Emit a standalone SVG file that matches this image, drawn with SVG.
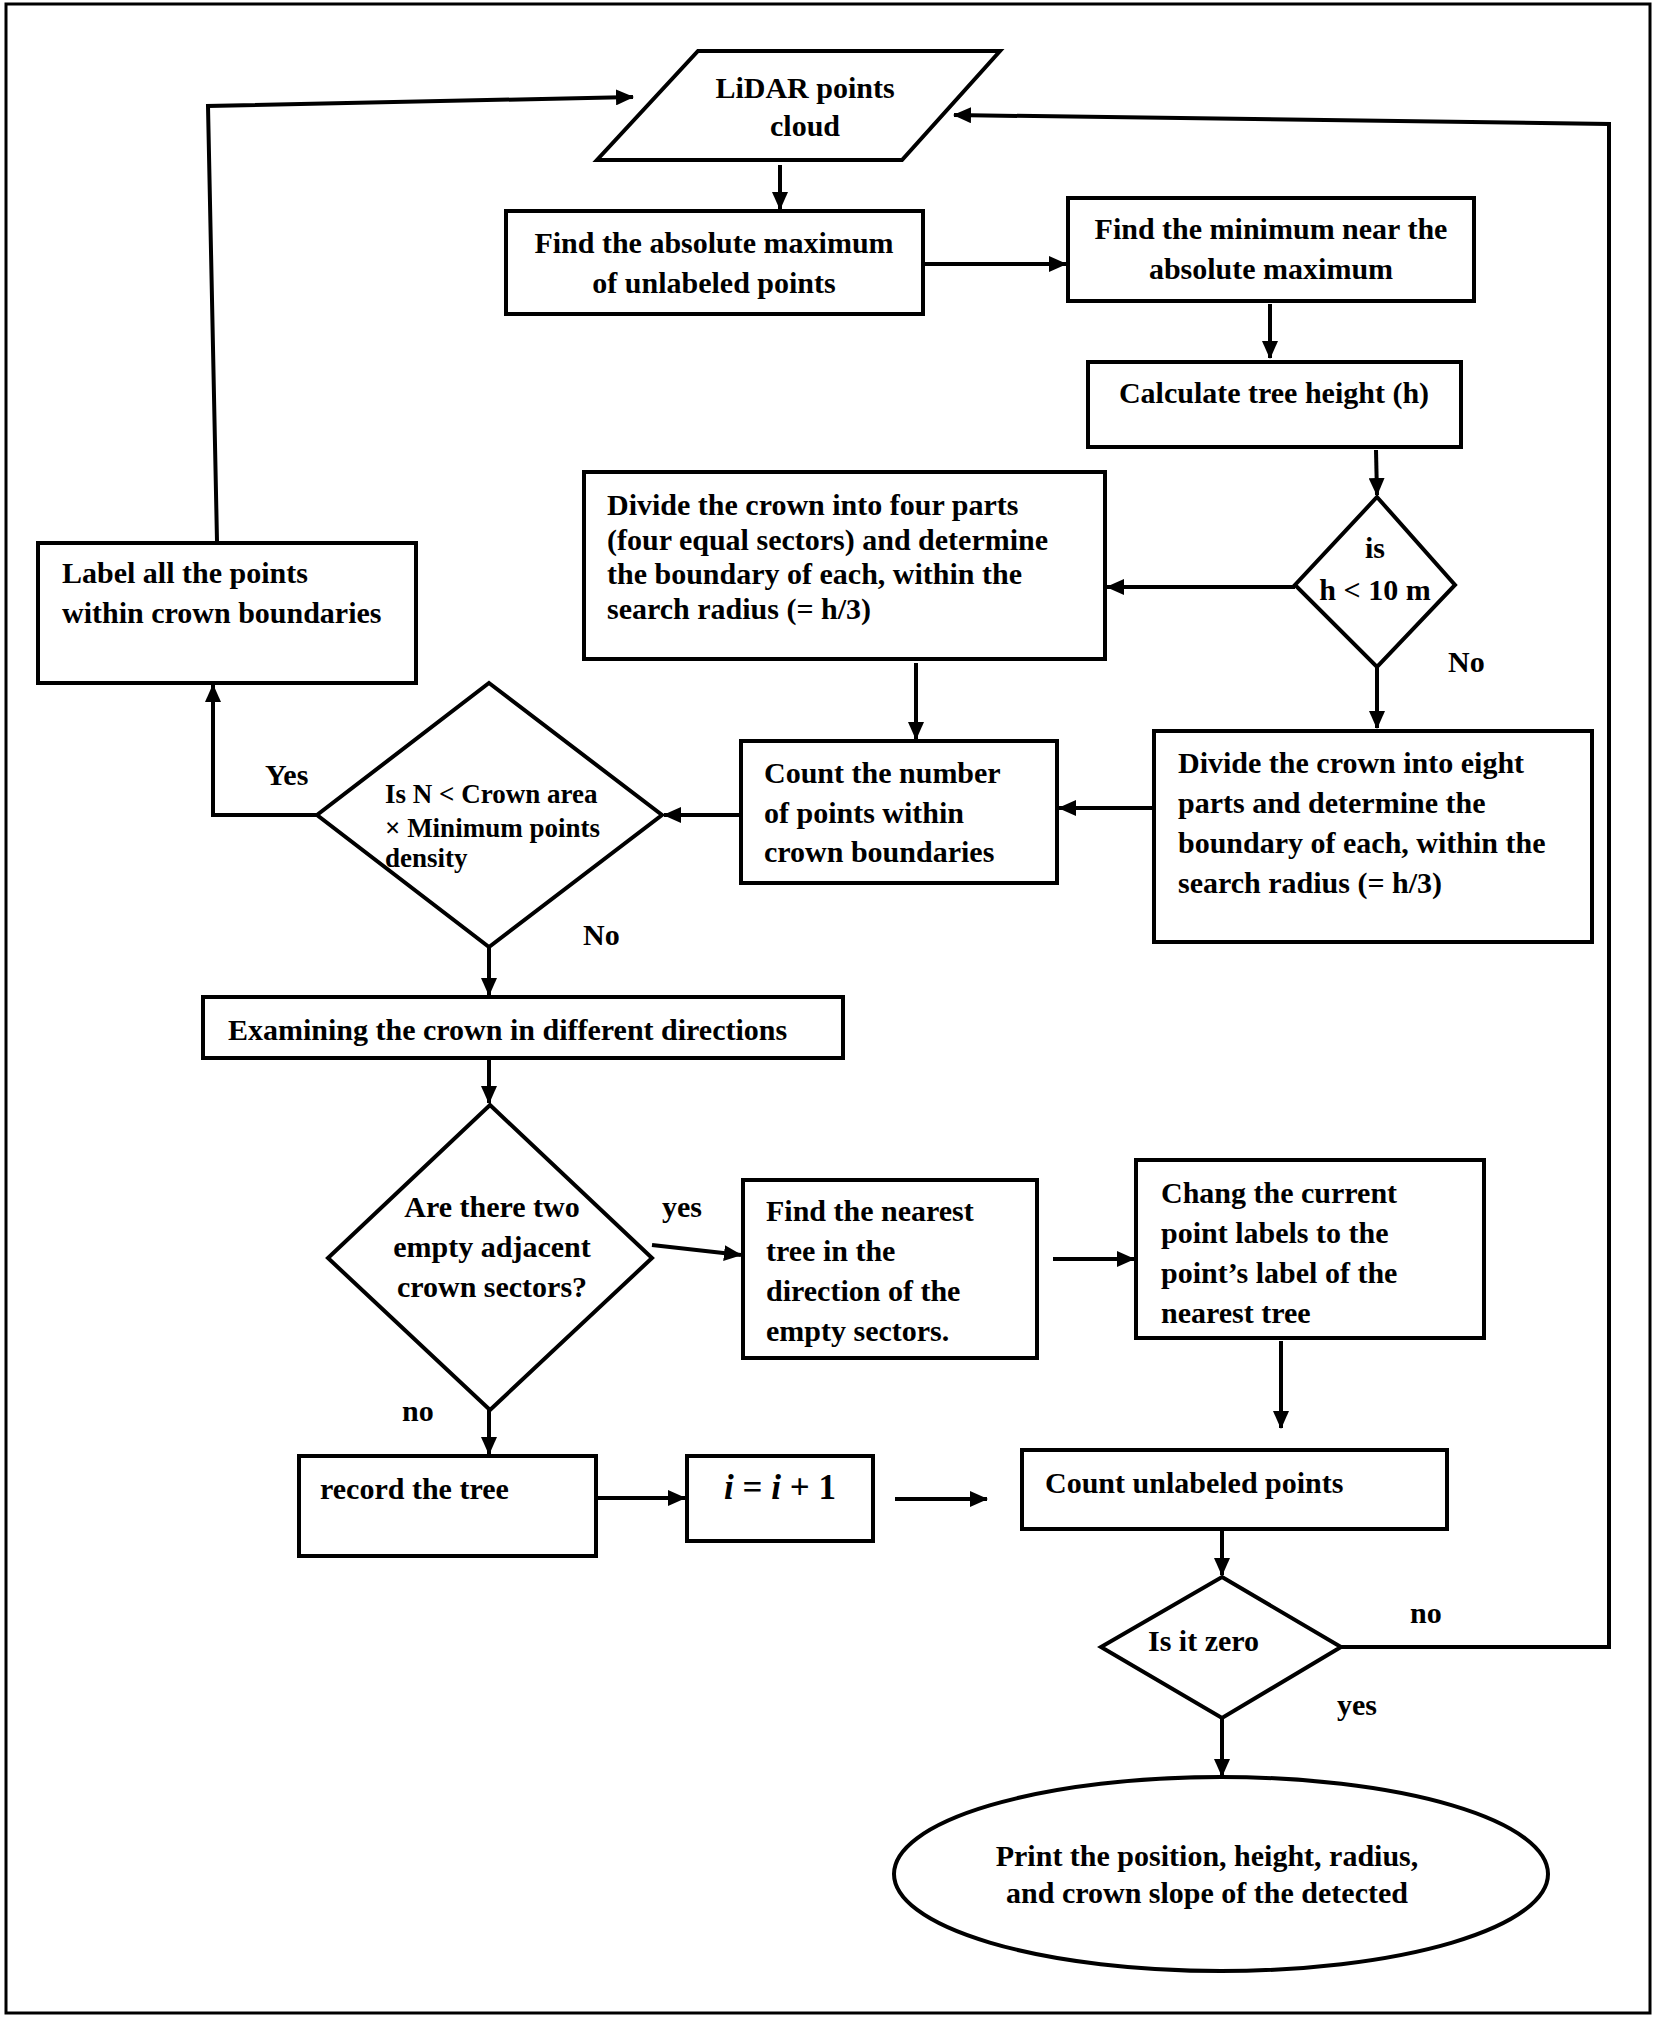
<svg xmlns="http://www.w3.org/2000/svg" width="1654" height="2018" viewBox="0 0 1654 2018">
<style>
.s{fill:#fff;stroke:#000;stroke-width:4}
.c{fill:none;stroke:#000;stroke-width:4}
text{font-family:"Liberation Serif","Times New Roman",serif;font-weight:bold;font-size:30px;fill:#000}
.m{text-anchor:middle}
.sm{font-size:27px}
.eq{font-size:35px}
.it{font-style:italic}
</style>
<defs>
<marker id="a" markerUnits="userSpaceOnUse" markerWidth="18" markerHeight="16" refX="17" refY="8" orient="auto">
<path d="M0,0 L18,8 L0,16 z" fill="#000"/>
</marker>
</defs>
<rect x="0" y="0" width="1654" height="2018" fill="#fff"/>
<rect x="6" y="4" width="1644" height="2009" fill="none" stroke="#000" stroke-width="3"/>

<g id="connectors" class="c">
<line x1="780" y1="165" x2="780" y2="209" marker-end="url(#a)"/>
<line x1="923" y1="264" x2="1066" y2="264" marker-end="url(#a)"/>
<line x1="1270" y1="304" x2="1270" y2="358" marker-end="url(#a)"/>
<line x1="1376" y1="450" x2="1377" y2="495" marker-end="url(#a)"/>
<line x1="1295" y1="587" x2="1107" y2="587" marker-end="url(#a)"/>
<line x1="1377" y1="667" x2="1377" y2="728" marker-end="url(#a)"/>
<line x1="1152" y1="808" x2="1059" y2="808" marker-end="url(#a)"/>
<line x1="916" y1="663" x2="916" y2="739" marker-end="url(#a)"/>
<line x1="741" y1="815" x2="664" y2="815" marker-end="url(#a)"/>
<polyline points="317,815 213,815 213,685" marker-end="url(#a)"/>
<polyline points="217,541 208,106 633,97" marker-end="url(#a)"/>
<line x1="489" y1="947" x2="489" y2="995" marker-end="url(#a)"/>
<line x1="489" y1="1058" x2="489" y2="1103" marker-end="url(#a)"/>
<line x1="652" y1="1245" x2="741" y2="1255" marker-end="url(#a)"/>
<line x1="1053" y1="1259" x2="1134" y2="1259" marker-end="url(#a)"/>
<line x1="1281" y1="1341" x2="1281" y2="1428" marker-end="url(#a)"/>
<line x1="489" y1="1410" x2="489" y2="1454" marker-end="url(#a)"/>
<line x1="596" y1="1498" x2="685" y2="1498" marker-end="url(#a)"/>
<line x1="895" y1="1499" x2="987" y2="1499" marker-end="url(#a)"/>
<line x1="1222" y1="1529" x2="1222" y2="1575" marker-end="url(#a)"/>
<polyline points="1341,1647 1609,1647 1609,124 954,115" marker-end="url(#a)"/>
<line x1="1222" y1="1718" x2="1222" y2="1776" marker-end="url(#a)"/>
</g>

<g id="lidar">
<polygon class="s" points="698,51 1000,51 902,160 597,160"/>
<text class="m" x="805" y="98">LiDAR points</text>
<text class="m" x="805" y="136">cloud</text>
</g>
<g id="absmax">
<rect class="s" x="506" y="211" width="417" height="103"/>
<text class="m" x="714" y="253">Find the absolute maximum</text>
<text class="m" x="714" y="293">of unlabeled points</text>
</g>
<g id="minnear">
<rect class="s" x="1068" y="198" width="406" height="103"/>
<text class="m" x="1271" y="239">Find the minimum near the</text>
<text class="m" x="1271" y="279">absolute maximum</text>
</g>
<g id="height">
<rect class="s" x="1088" y="362" width="373" height="85"/>
<text class="m" x="1274" y="403">Calculate tree height (h)</text>
</g>
<g id="isH">
<polygon class="s" points="1377,497 1455,585 1377,667 1295,585"/>
<text class="m" x="1375" y="558">is</text>
<text class="m" x="1375" y="600">h &lt; 10 m</text>
</g>
<text x="1448" y="672">No</text>
<g id="four">
<rect class="s" x="584" y="472" width="521" height="187"/>
<text x="607" y="515">Divide the crown into four parts</text>
<text x="607" y="550">(four equal sectors) and determine</text>
<text x="607" y="584">the boundary of each, within the</text>
<text x="607" y="619">search radius (= h/3)</text>
</g>
<g id="eight">
<rect class="s" x="1154" y="731" width="438" height="211"/>
<text x="1178" y="773">Divide the crown into eight</text>
<text x="1178" y="813">parts and determine the</text>
<text x="1178" y="853">boundary of each, within the</text>
<text x="1178" y="893">search radius (= h/3)</text>
</g>
<g id="count">
<rect class="s" x="741" y="741" width="316" height="142"/>
<text x="764" y="783">Count the number</text>
<text x="764" y="823">of points within</text>
<text x="764" y="862">crown boundaries</text>
</g>
<g id="isN">
<polygon class="s" points="489,683 662,815 489,947 317,815"/>
<text class="sm" x="385" y="803">Is N &lt; Crown area</text>
<text class="sm" x="385" y="837">× Minimum points</text>
<text class="sm" x="385" y="867">density</text>
</g>
<text x="265" y="785">Yes</text>
<text x="583" y="945">No</text>
<g id="label">
<rect class="s" x="38" y="543" width="378" height="140"/>
<text x="62" y="583">Label all the points</text>
<text x="62" y="623">within crown boundaries</text>
</g>
<g id="examine">
<rect class="s" x="203" y="997" width="640" height="61"/>
<text x="228" y="1040">Examining the crown in different directions</text>
</g>
<g id="empty">
<polygon class="s" points="490,1105 652,1258 490,1410 328,1258"/>
<text class="m" x="492" y="1217">Are there two</text>
<text class="m" x="492" y="1257">empty adjacent</text>
<text class="m" x="492" y="1297">crown sectors?</text>
</g>
<text x="662" y="1217">yes</text>
<text x="402" y="1421">no</text>
<g id="nearest">
<rect class="s" x="743" y="1180" width="294" height="178"/>
<text x="766" y="1221">Find the nearest</text>
<text x="766" y="1261">tree in the</text>
<text x="766" y="1301">direction of the</text>
<text x="766" y="1341">empty sectors.</text>
</g>
<g id="chang">
<rect class="s" x="1136" y="1160" width="348" height="178"/>
<text x="1161" y="1203">Chang the current</text>
<text x="1161" y="1243">point labels to the</text>
<text x="1161" y="1283">point’s label of the</text>
<text x="1161" y="1323">nearest tree</text>
</g>
<g id="record">
<rect class="s" x="299" y="1456" width="297" height="100"/>
<text x="320" y="1499">record the tree</text>
</g>
<g id="incr">
<rect class="s" x="687" y="1456" width="186" height="85"/>
<text class="m eq" x="780" y="1499"><tspan class="it">i</tspan> = <tspan class="it">i</tspan> + 1</text>
</g>
<g id="unlabeled">
<rect class="s" x="1022" y="1450" width="425" height="79"/>
<text x="1045" y="1493">Count unlabeled points</text>
</g>
<g id="zero">
<polygon class="s" points="1222,1577 1341,1647 1222,1718 1101,1647"/>
<text x="1148" y="1651">Is it zero</text>
</g>
<text x="1410" y="1623">no</text>
<text x="1337" y="1715">yes</text>
<g id="print">
<ellipse class="s" cx="1221" cy="1874" rx="327" ry="97"/>
<text class="m" x="1207" y="1866">Print the position, height, radius,</text>
<text class="m" x="1207" y="1903">and crown slope of the detected</text>
</g>
</svg>
